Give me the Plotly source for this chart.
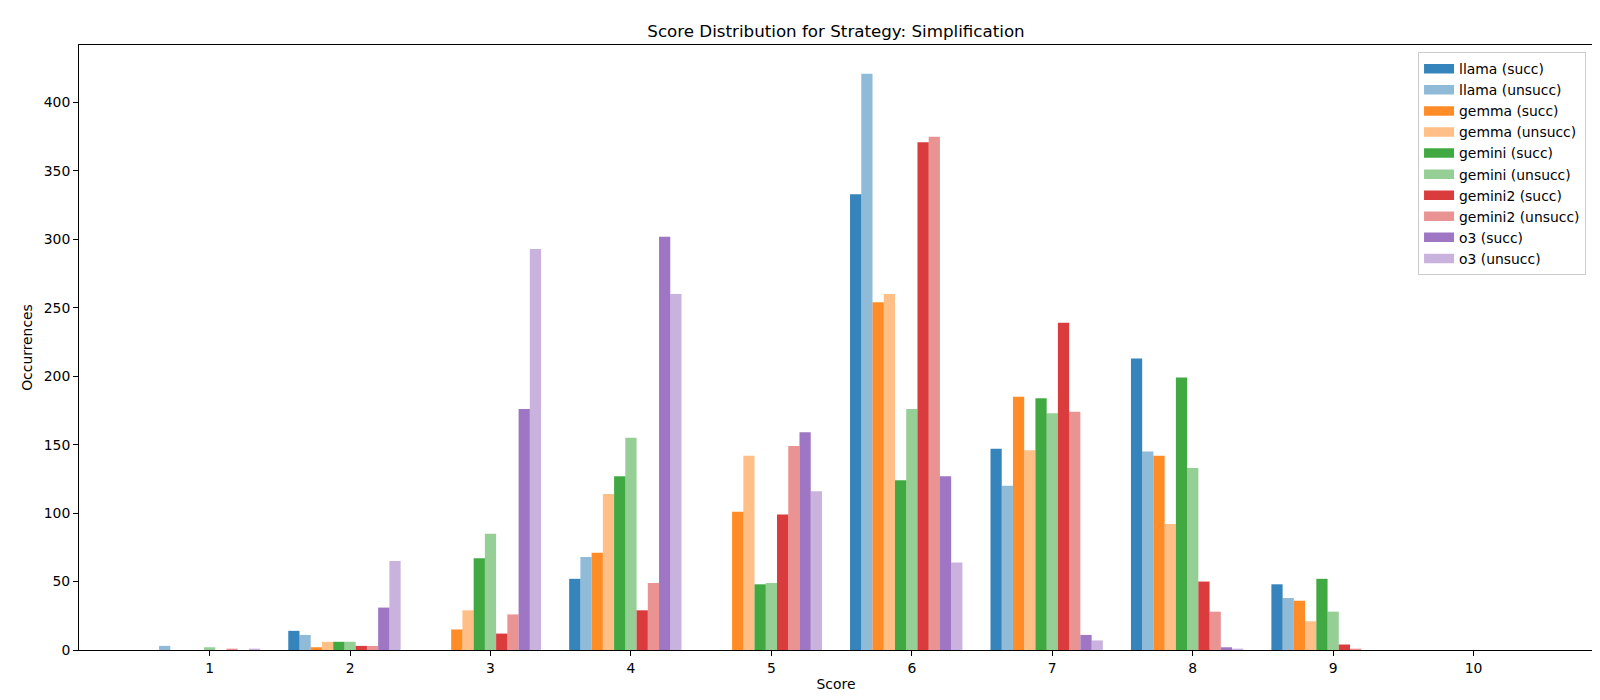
import plotly.graph_objects as go

scores = [1, 2, 3, 4, 5, 6, 7, 8, 9, 10]
tick_labels = ["1", "2", "3", "4", "5", "6", "7", "8", "9", "10"]

llama_succ = [0, 14, 0, 52, 0, 333, 147, 213, 48, 0]
llama_unsucc = [3, 11, 0, 68, 0, 421, 120, 145, 38, 0]
gemma_succ = [0, 2, 15, 71, 101, 254, 185, 142, 36, 0]
gemma_unsucc = [0, 6, 29, 114, 142, 260, 146, 92, 21, 0]
gemini_succ = [0, 6, 67, 127, 48, 124, 184, 199, 52, 0]
gemini_unsucc = [2, 6, 85, 155, 49, 176, 173, 133, 28, 0]
gemini2_succ = [0, 3, 12, 29, 99, 371, 239, 50, 4, 0]
gemini2_unsucc = [1, 3, 26, 49, 149, 375, 174, 28, 1, 0]
o3_succ = [0, 31, 176, 302, 159, 127, 11, 2, 0, 0]
o3_unsucc = [1, 65, 293, 260, 116, 64, 7, 1, 0, 0]

series = [
    ("llama (succ)", llama_succ, "rgba(31,119,180,0.9)"),
    ("llama (unsucc)", llama_unsucc, "rgba(31,119,180,0.5)"),
    ("gemma (succ)", gemma_succ, "rgba(255,127,14,0.9)"),
    ("gemma (unsucc)", gemma_unsucc, "rgba(255,127,14,0.5)"),
    ("gemini (succ)", gemini_succ, "rgba(44,160,44,0.9)"),
    ("gemini (unsucc)", gemini_unsucc, "rgba(44,160,44,0.5)"),
    ("gemini2 (succ)", gemini2_succ, "rgba(214,39,40,0.9)"),
    ("gemini2 (unsucc)", gemini2_unsucc, "rgba(214,39,40,0.5)"),
    ("o3 (succ)", o3_succ, "rgba(148,103,189,0.9)"),
    ("o3 (unsucc)", o3_unsucc, "rgba(148,103,189,0.5)"),
]

bar_w = 0.08
fig = go.Figure()
for i, (name, vals, color) in enumerate(series):
    fig.add_trace(go.Bar(
        x=scores, y=vals, name=name, showlegend=False,
        width=bar_w, offset=(i - 5) * bar_w - bar_w / 2,
        marker=dict(color=color, line=dict(width=0)),
    ))
# legend entries with matplotlib-like rectangular patches
for name, vals, color in series:
    fig.add_trace(go.Scatter(
        x=[None], y=[None], name=name, mode="lines",
        line=dict(color=color, width=9.5), showlegend=True, hoverinfo="skip",
    ))

FONT = "DejaVu Sans"
fig.update_layout(
    barmode="overlay",
    width=1600, height=700,
    paper_bgcolor="white", plot_bgcolor="white",
    font=dict(family=FONT, size=13.9, color="black"),
    margin=dict(l=71, r=15, t=37, b=58),
    title=dict(text="Score Distribution for Strategy: Simplification",
               x=0.5, xref="paper", xanchor="center",
               y=1 - 23 / 700, yref="container", yanchor="middle",
               font=dict(size=16.7, family=FONT, color="black")),
    xaxis=dict(range=[0.07, 10.85], tickvals=scores, ticktext=tick_labels,
               showline=True, mirror=True, linecolor="black", linewidth=1,
               ticks="outside", ticklen=5, tickcolor="black", showgrid=False,
               zeroline=False,
               title=dict(text="Score", standoff=4, font=dict(size=13.9))),
    yaxis=dict(range=[0, 442], tickvals=[0, 50, 100, 150, 200, 250, 300, 350, 400],
               showline=True, mirror=True, linecolor="black", linewidth=1,
               ticks="outside", ticklen=5, tickcolor="black", showgrid=False,
               zeroline=False,
               title=dict(text="Occurrences", standoff=7, font=dict(size=13.9))),
    legend=dict(x=0.9954, y=0.988, xanchor="right", yanchor="top",
                bgcolor="rgba(255,255,255,0.8)", bordercolor="#cccccc", borderwidth=1,
                font=dict(size=13.9, family=FONT), tracegroupgap=0,
                traceorder="normal", itemwidth=30),
    showlegend=True,
)

fig.write_html("out.html")
